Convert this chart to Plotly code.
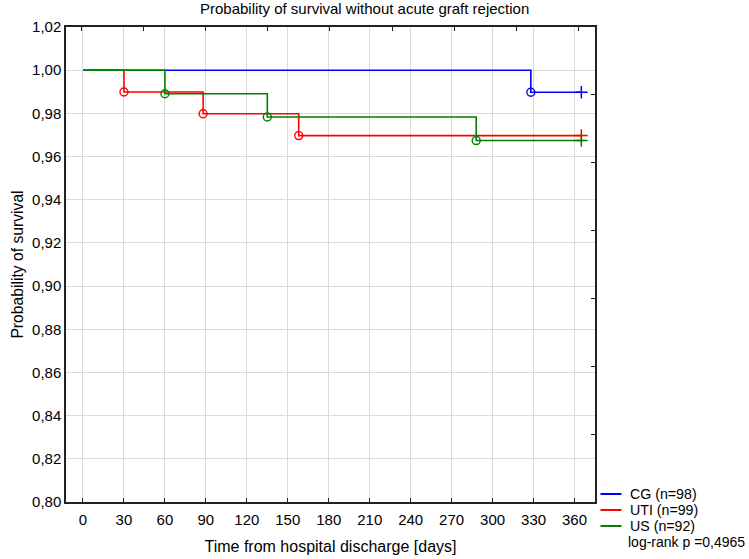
import plotly.graph_objects as go

# ---- data ----
groups = ["CG (n=98)", "UTI (n=99)", "US (n=92)"]
colors = ["#0000ff", "#ff0000", "#008000"]
event_days = [
    [328],
    [30, 88, 158],
    [60, 135, 288],
]
event_surv = [
    [0.9898],
    [0.9899, 0.9798, 0.9697],
    [0.9891, 0.9783, 0.9674],
]
start_day = 0
end_day = 365
x_ticks = [0, 30, 60, 90, 120, 150, 180, 210, 240, 270, 300, 330, 360]
y_ticks = [0.80, 0.82, 0.84, 0.86, 0.88, 0.90, 0.92, 0.94, 0.96, 0.98, 1.00, 1.02]
title = "Probability of survival without acute graft rejection"
x_title = "Time from hospital discharge [days]"
y_title = "Probability of survival"
note = "log-rank p =0,4965"

FONT = "Liberation Sans, Arial, sans-serif"

fig = go.Figure()
for name, col, days, surv in zip(groups, colors, event_days, event_surv):
    xs = [start_day] + days + [end_day]
    ys = [1.0] + surv + [surv[-1]]
    fig.add_trace(go.Scatter(x=xs, y=ys, mode="lines", line=dict(color=col, width=1.6, shape="hv"),
                             name=name, showlegend=False, hoverinfo="skip"))
    fig.add_trace(go.Scatter(x=days, y=surv, mode="markers",
                             marker=dict(symbol="circle-open", size=8, color=col, line=dict(width=1.4, color=col)),
                             showlegend=False, hoverinfo="skip"))
    fig.add_trace(go.Scatter(x=[end_day], y=[surv[-1]], mode="markers",
                             marker=dict(symbol="cross-thin-open", size=9, color=col, line=dict(width=1.5, color=col)),
                             showlegend=False, hoverinfo="skip"))

# dummy trace for secondary decorative axes
fig.add_trace(go.Scatter(x=[], y=[], xaxis="x2", yaxis="y2", showlegend=False, hoverinfo="skip"))

# manual legend
row_y = [0.0168, -0.0168, -0.0505]
for name, col, yy in zip(groups, colors, row_y):
    fig.add_shape(type="line", xref="paper", yref="paper", x0=1.0104, x1=1.050, y0=yy, y1=yy,
                  line=dict(color=col, width=2))
    fig.add_annotation(x=1.0633, y=yy, xref="paper", yref="paper", text=name, showarrow=False,
                       xanchor="left", yanchor="middle", font=dict(size=14.2, color="black", family=FONT))
fig.add_annotation(x=1.0595, y=-0.0842, xref="paper", yref="paper", text=note, showarrow=False,
                   xanchor="left", yanchor="middle", font=dict(size=14, color="black", family=FONT))

fig.update_layout(
    width=749, height=559,
    margin=dict(l=66, r=153.5, t=27, b=57, autoexpand=False),
    paper_bgcolor="white", plot_bgcolor="white",
    separators=", ",
    font=dict(family=FONT, size=15, color="black"),
    title=dict(text=title, x=0.267, xanchor="left", y=0.9758, yanchor="bottom",
               font=dict(size=15, family=FONT, color="black")),
    showlegend=False,
    xaxis=dict(range=[-12.44, 375.0], tickvals=x_ticks, ticktext=[str(v) for v in x_ticks],
               automargin=False,
               showgrid=True, gridcolor="#dadada", gridwidth=1.3, zeroline=False,
               showline=True, linecolor="#222222", linewidth=1.5, mirror=True,
               ticks="inside", ticklen=4, tickcolor="#222222", ticklabelstandoff=3,
               tickfont=dict(size=15), title=dict(text=x_title, font=dict(size=16), standoff=14)),
    yaxis=dict(range=[0.80, 1.02], tickvals=y_ticks, tickformat=".2f",
               automargin=False,
               showgrid=True, gridcolor="#dadada", gridwidth=1.3, zeroline=False,
               showline=True, linecolor="#222222", linewidth=1.5, mirror=True,
               ticks="", tickfont=dict(size=15), title=dict(text=y_title, font=dict(size=15.7), standoff=5)),
    xaxis2=dict(overlaying="x", side="top", anchor="y", range=[-0.241, 8.258], dtick=1, tick0=0,
                automargin=False,
                ticks="inside", ticklen=4, tickcolor="#222222", showticklabels=False,
                showgrid=False, zeroline=False, showline=False),
    yaxis2=dict(overlaying="y", side="right", anchor="x", range=[0, 7.0], dtick=1, tick0=0,
                automargin=False,
                ticks="inside", ticklen=4, tickcolor="#222222", showticklabels=False,
                showgrid=False, zeroline=False, showline=False),
)

fig.write_html("out.html", config={"displayModeBar": False},
               post_script="document.body.style.margin='0';document.body.style.overflow='hidden';")
